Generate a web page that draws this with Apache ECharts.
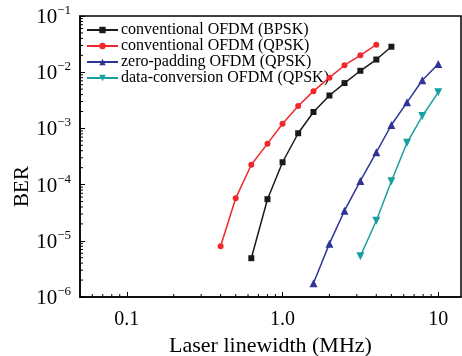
<!DOCTYPE html>
<html><head><meta charset="utf-8">
<script src="https://cdn.jsdelivr.net/npm/echarts@6/dist/echarts.min.js"></script>
<style>html,body{margin:0;padding:0;background:#fff}#c{width:462px;height:356px}</style>
</head><body><div id="c"></div>
<script>
const seriesNames = ['conventional OFDM (BPSK)', 'conventional OFDM (QPSK)', 'zero-padding OFDM (QPSK)', 'data-conversion OFDM (QPSK)'];
const bpskX = [0.63, 0.8, 1.0, 1.26, 1.58, 2.0, 2.5, 3.16, 4.0, 5.0];
const bpskY = [4.9e-6, 5.5e-5, 2.5e-4, 8.2e-4, 1.96e-3, 3.85e-3, 6.4e-3, 1.06e-2, 1.68e-2, 2.84e-2];
const qpskX = [0.4, 0.5, 0.63, 0.8, 1.0, 1.26, 1.58, 2.0, 2.5, 3.16, 4.0];
const qpskY = [8.0e-6, 5.7e-5, 2.26e-4, 5.35e-4, 1.21e-3, 2.5e-3, 4.6e-3, 8.0e-3, 1.33e-2, 2.0e-2, 3.08e-2];
const zpX = [1.58, 2.0, 2.5, 3.16, 4.0, 5.0, 6.3, 7.9, 10];
const zpY = [1.75e-6, 8.9e-6, 3.43e-5, 1.16e-4, 3.76e-4, 1.15e-3, 2.91e-3, 7.18e-3, 1.4e-2];
const dcX = [3.16, 4.0, 5.0, 6.3, 7.9, 10];
const dcY = [5.3e-6, 2.28e-5, 1.15e-4, 5.54e-4, 1.66e-3, 4.39e-3];
const xTickLabels = {'-1': '0.1', '0': '1.0', '1': '10'};
const yTickLabels = {'-6': '−6', '-5': '−5', '-4': '−4', '-3': '−3', '-2': '−2', '-1': '−1'};
const colors = ['#1a1a1a', '#f0282d', '#2e3596', '#17a0a3'];

const FONT = 'Liberation Serif';
const xMinor = [], yMinor = [];
[0.01, 0.1, 1, 10].forEach(d => { for (let k = 2; k <= 9; k++) { const v = d * k; if (v > 0.05 && v < 14) xMinor.push([v, 1e-6]); } });
[1e-6, 1e-5, 1e-4, 1e-3, 1e-2].forEach(d => { for (let k = 2; k <= 9; k++) yMinor.push([0.05, d * k]); });

const zip = (xs, ys) => xs.map((x, i) => [x, ys[i]]);
const chart = echarts.init(document.getElementById('c'), null, {renderer: 'canvas'});
const mk = (i, data, symbol, size, rot) => ({
  name: seriesNames[i], type: 'line', data, symbol, symbolSize: size, symbolRotate: rot || 0,
  lineStyle: {color: colors[i], width: 1.5}, itemStyle: {color: colors[i]}, z: 5
});
chart.setOption({
  animation: false,
  grid: {left: 80, right: 1, top: 16, bottom: 59, show: true, borderColor: '#000', borderWidth: 1.5,
         outerBoundsMode: 'none', containLabel: false},
  legend: {
    data: seriesNames, orient: 'vertical', left: 86, top: 22, padding: 0,
    itemWidth: 31, itemHeight: 8, itemGap: 0,
    textStyle: {fontFamily: FONT, fontSize: 16, color: '#000', lineHeight: 16, padding: [0, 0, 0, -2]}
  },
  xAxis: {
    type: 'log', logBase: 10, min: 0.05, max: 14,
    axisLine: {lineStyle: {color: '#000', width: 1.5}},
    axisTick: {inside: true, length: 5, lineStyle: {color: '#000', width: 1}},
    splitLine: {show: false},
    axisLabel: {
      showMinLabel: false, showMaxLabel: false, margin: 13, color: '#000', fontFamily: FONT, fontSize: 20,
      formatter: v => xTickLabels[String(Math.round(Math.log10(v)))] || ''
    },
    name: 'Laser linewidth (MHz)', nameLocation: 'middle', nameGap: 35,
    nameTextStyle: {fontFamily: FONT, fontSize: 22, color: '#000'}
  },
  yAxis: {
    type: 'log', logBase: 10, min: 1e-6, max: 0.1,
    axisLine: {lineStyle: {color: '#000', width: 1.5}},
    axisTick: {inside: true, length: 5, lineStyle: {color: '#000', width: 1}},
    splitLine: {show: false},
    axisLabel: {
      margin: 9, color: '#000',
      formatter: v => '{b|10}{s|' + (yTickLabels[String(Math.round(Math.log10(v)))] || '') + '}',
      rich: {
        b: {fontFamily: FONT, fontSize: 21, color: '#000', lineHeight: 24, verticalAlign: 'bottom'},
        s: {fontFamily: FONT, fontSize: 13, color: '#000', verticalAlign: 'top', lineHeight: 13}
      }
    },
    name: 'BER', nameLocation: 'middle', nameGap: 47, nameRotate: 90, nameMoveOverlap: false,
    nameTextStyle: {fontFamily: FONT, fontSize: 21, color: '#000', padding: [0, 60, 0, 0]}
  },
  series: [
    mk(0, zip(bpskX, bpskY), 'rect', 6),
    mk(1, zip(qpskX, qpskY), 'circle', 6),
    mk(2, zip(zpX, zpY), 'triangle', 8),
    mk(3, zip(dcX, dcY), 'triangle', 8, 180),
    {type: 'custom', silent: true, data: xMinor, z: 3, renderItem: (p, api) => {
      const c = api.coord([api.value(0), api.value(1)]);
      return {type: 'line', shape: {x1: c[0], y1: c[1], x2: c[0], y2: c[1] - 3}, style: {stroke: '#000', lineWidth: 1}};
    }},
    {type: 'custom', silent: true, data: yMinor, z: 3, renderItem: (p, api) => {
      const c = api.coord([api.value(0), api.value(1)]);
      return {type: 'line', shape: {x1: c[0], y1: c[1], x2: c[0] + 3, y2: c[1]}, style: {stroke: '#000', lineWidth: 1}};
    }}
  ]
});
</script></body></html>
